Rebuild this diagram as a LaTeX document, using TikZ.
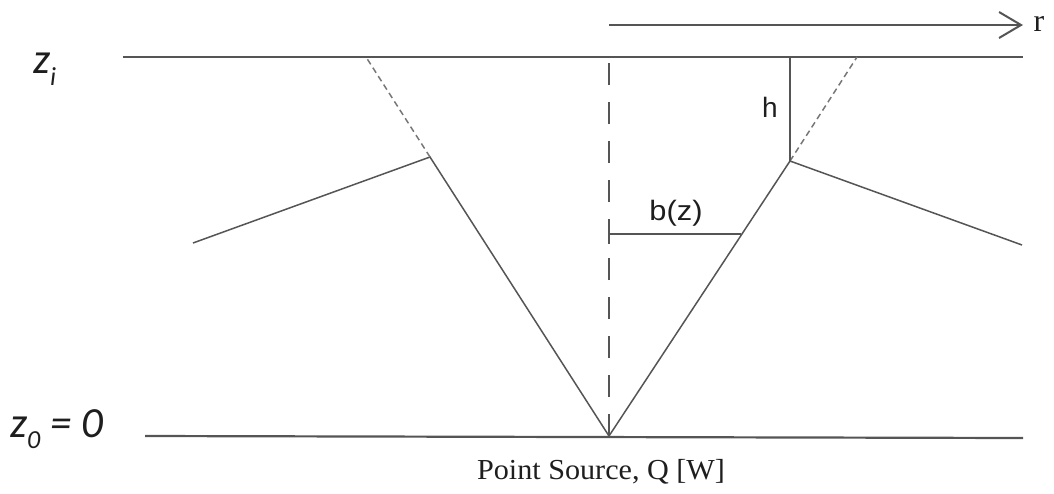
\documentclass[tikz,border=0pt]{standalone}
\usepackage{fontspec}
\setmainfont{Liberation Serif}
\newfontfamily\calfont{Carlito}
\newfontfamily\arialfont{Liberation Sans}
\usetikzlibrary{arrows.meta}
\definecolor{linegray}{HTML}{555555}
\definecolor{dashgray}{HTML}{777777}
\definecolor{txt}{HTML}{1E1E1E}
\tikzset{
  baseline/.style={draw=linegray, line width=2.2pt},
  plume/.style={draw=linegray, line width=1.5pt},
  extension/.style={draw=dashgray, line width=1.5pt, dash pattern=on 6pt off 4pt},
  axisline/.style={draw=linegray, line width=1.9pt, dash pattern=on 22pt off 17pt},
  zlabel/.style={text=txt, inner sep=0pt, font=\calfont\itshape\fontsize{43}{43}\selectfont},
  sanslabel/.style={text=txt, inner sep=0pt, font=\arialfont\fontsize{28}{28}\selectfont},
  seriflabel/.style={text=txt, inner sep=0pt, font=\fontsize{29}{29}\selectfont},
}
\begin{document}
\begin{tikzpicture}[x=1pt,y=-1pt]
\useasboundingbox (0,0) rectangle (1054,493);
% key points
\coordinate (TL) at (123,57);
\coordinate (TR) at (1023,57);
\coordinate (BL) at (145,436);
\coordinate (BR) at (1023,438);
\coordinate (apex) at (609,436);
\coordinate (axtop) at (609,57);
\coordinate (LK) at (430,157);
\coordinate (LT) at (366,57);
\coordinate (LW) at (193,243);
\coordinate (RK) at (790,161);
\coordinate (RT) at (857,57);
\coordinate (RW) at (1022,245);
\coordinate (hTop) at (790,57);
\coordinate (bL) at (609,234);
\coordinate (bR) at (741,234);
\coordinate (rA) at (609,25);
\coordinate (rB) at (1023,25);
% horizontal lines
\draw[baseline] (TL) -- (TR);
\draw[baseline] (BL) -- (BR);
% axis
\draw[axisline] (apex) -- (axtop);
% plume
\draw[plume] (LW) -- (LK) -- (apex) -- (RK) -- (RW);
\draw[extension] (LK) -- (LT);
\draw[extension] (RK) -- (RT);
% h
\draw[plume, line width=1.8pt] (hTop) -- (RK);
\node[sanslabel] (hlab) at (770,107) {h};
% b(z)
\draw[plume, line width=1.8pt] (bL) -- (bR);
\draw[plume] (609,228) -- (609,244);
\node[sanslabel, xscale=1.1] (blab) at (676,213) {b(z)};
% r arrow
\draw[draw=linegray, line width=2pt, -{Straight Barb[length=22pt,width=26pt,line width=2pt]}] (rA) -- (rB);
\node[text=txt, inner sep=0pt, font=\fontsize{32}{32}\selectfont] (rlab) at (1039,24) {r};
% labels
\node[zlabel, anchor=base west] (zi) at (33,73) {z\raisebox{-0.28em}{\fontsize{26}{26}\selectfont i}};
\node[zlabel, anchor=base west] (z0) at (10,437) {z\raisebox{-0.26em}{\fontsize{26}{26}\selectfont 0} = 0};
\node[seriflabel, anchor=base, xscale=1.04] (src) at (601,479) {Point Source, Q [W]};
\end{tikzpicture}
\end{document}
